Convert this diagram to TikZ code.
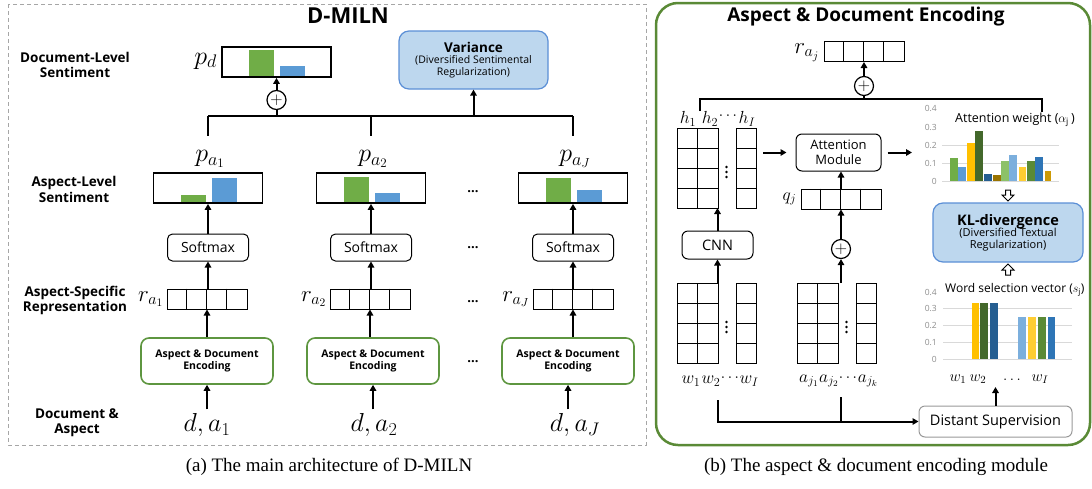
\RequirePackage{fix-cm}
\documentclass[tikz,border=0pt]{standalone}
\usepackage{fontspec}
\setmainfont{Open Sans}
\newfontfamily\capfont{Liberation Serif}
\usetikzlibrary{arrows.meta,calc}

\definecolor{bargreen}{HTML}{70AD47}
\definecolor{barblue}{HTML}{5B9BD5}
\definecolor{regfill}{HTML}{BDD7EE}
\definecolor{regdraw}{HTML}{5B8FD6}
\definecolor{encgreen}{HTML}{5E9640}
\definecolor{panelgreen}{HTML}{5A8A36}
\definecolor{panelgrey}{HTML}{A6A6A6}
\definecolor{cYellow}{HTML}{FFC000}
\definecolor{cDkGreen}{HTML}{43682B}
\definecolor{cDkBlue}{HTML}{255E91}
\definecolor{cGold}{HTML}{997300}
\definecolor{cLtGreen}{HTML}{8CC168}
\definecolor{cLtBlue}{HTML}{7CAFDD}
\definecolor{cLtYellow}{HTML}{FFCD33}
\definecolor{cMidGreen}{HTML}{5A8A36}
\definecolor{cMidBlue}{HTML}{2E75B6}
\definecolor{cOchre}{HTML}{CC9A06}
\definecolor{axisgrey}{HTML}{8C8C8C}
\definecolor{gridgrey}{HTML}{D9D9D9}

\tikzset{
  arr/.style={line width=2pt, -{Triangle[length=6pt,width=6.5pt]}},
  conn/.style={line width=2pt},
  lbl/.style={font=\bfseries\fontsize{13.5}{15.5}\selectfont, align=center},
  distbox/.style={draw, line width=1.8pt, minimum width=109pt, minimum height=30pt, inner sep=0pt},
  softbox/.style={draw, rounded corners=5pt, line width=1pt, minimum width=81pt, minimum height=27pt, inner sep=0pt, font=\fontsize{14}{16}\selectfont},
  encbox/.style={draw=encgreen, rounded corners=8pt, line width=1.6pt, minimum width=132pt, minimum height=46pt, inner sep=0pt, align=center, font=\bfseries\fontsize{10.5}{12}\selectfont},
  regbox/.style={draw=regdraw, fill=regfill, rounded corners=10pt, line width=1.2pt, inner sep=0pt, align=center},
  oplus/.style={draw, circle, line width=1.2pt, minimum size=19pt, inner sep=0pt, font=\fontsize{17}{17}\selectfont},
  bigmath/.style={font=\fontsize{26}{28}\selectfont, inner sep=0pt},
  midmath/.style={font=\fontsize{23}{25}\selectfont, inner sep=0pt},
  smallmath/.style={font=\fontsize{17.5}{19}\selectfont, inner sep=0pt},
  tinymath/.style={font=\fontsize{15.5}{17}\selectfont, inner sep=0pt},
  ellip/.style={font=\bfseries\fontsize{13}{15}\selectfont},
  cellline/.style={line width=1pt},
  roundbox/.style={draw, rounded corners=6pt, line width=1pt, inner sep=0pt, align=center},
  axislbl/.style={font=\fontsize{8.5}{10}\selectfont, text=axisgrey, anchor=east, inner sep=0pt},
  charttitle/.style={font=\fontsize{12.5}{14}\selectfont, anchor=west, inner sep=0pt},
  hollow/.style={line width=1pt, fill=white},
}

% distribution box with a green and a blue bar
\newcommand\distbar[5]{% name, centre x, centre y, green height, blue height
  \fill[bargreen] (#2-27.5,#3+15) rectangle ++(25,-#4);
  \fill[barblue] (#2+3.5,#3+15) rectangle ++(25,-#5);
  \node[distbox] (#1) at (#2,#3) {};
}
% row vector of four cells
\newcommand\vecrow[3]{% name, centre x, centre y
  \node[draw, line width=1pt, minimum width=80pt, minimum height=20pt, inner sep=0pt] (#1) at (#2,#3) {};
  \foreach \k in {1,2,3} \draw[cellline] ($(#1.north west)+(20*\k,0)$) -- ($(#1.south west)+(20*\k,0)$);
}
% matrix: two columns, a gap with vertical dots, and a last column
\newcommand\gridmat[3]{% name, left x, top y
  \coordinate (#1) at (#2+39.5,#3+40);
  \coordinate (#1 n) at (#2+39.5,#3);
  \coordinate (#1 s) at (#2+39.5,#3+80);
  \coordinate (#1 e) at (#2+79,#3+40);
  \draw[cellline] (#2,#3) rectangle (#2+41,#3+80);
  \draw[cellline] (#2+59,#3) rectangle (#2+79,#3+80);
  \draw[cellline] (#2+20.5,#3) -- (#2+20.5,#3+80);
  \foreach \k in {20,40,60} {
    \draw[cellline] (#2,#3+\k) -- (#2+41,#3+\k);
    \draw[cellline] (#2+59,#3+\k) -- (#2+79,#3+\k);
  }
  \foreach \d in {-5,0,5} \fill (#2+49.5,#3+44+\d) circle (1.4pt);
}
% one chart bar: x left, x right, bottom y, top y, colour
\newcommand\cbar[5]{\fill[#5] (#1,#3) rectangle (#2,#4);}

\begin{document}
\begin{tikzpicture}[x=1pt,y=-1pt]
\useasboundingbox (0,0) rectangle (1092,488);

% ---------------- frames ----------------
\draw[panelgrey, line width=1pt, dash pattern=on 4pt off 3pt] (8,4) rectangle (646,445);
\draw[panelgreen, line width=2.5pt, rounded corners=22pt] (656,3) rectangle (1090,445);

% ---------------- left: D-MILN ----------------
\node[font=\bfseries\fontsize{22}{24}\selectfont] (titleA) at (348,16) {D-MILN};

\node[lbl] (lDoc) at (75,65) {Document-Level\\Sentiment};
\node[lbl] (lAsp) at (74,189.5) {Aspect-Level\\Sentiment};
\node[lbl] (lRep) at (75,300.5) {Aspect-Specific\\Representation};
\node[lbl] (lIn)  at (77,422.5) {Document \&\\Aspect};

% document-level output
\distbar{pd}{276.5}{62}{27}{11}
\node[bigmath, anchor=east] (pdlab) at (217,61) {$p_d$};
\node[oplus] (opd) at (276.5,100) {$+$};
\draw[arr] (opd.north) -- (pd.south);

\node[regbox, minimum width=149pt, minimum height=58pt] (var) at (473.5,60)
  {{\bfseries\fontsize{13.5}{17}\selectfont Variance}\\[-1pt]
   {\fontsize{10.5}{13}\selectfont (Diversified Sentimental}\\
   {\fontsize{10.5}{13}\selectfont Regularization)}};

% aspect columns
\distbar{pa1}{208}{188}{8}{25}
\distbar{pa2}{371}{188}{26}{10}
\distbar{pa3}{573}{188}{25}{13}
\node[bigmath] (pa1lab) at (210,159) {$p_{a_1}$};
\node[bigmath] (pa2lab) at (373,159) {$p_{a_2}$};
\node[bigmath] (pa3lab) at (575,159) {$p_{a_J}$};

\node[softbox] (sm1) at (208,247.5) {Softmax};
\node[softbox] (sm2) at (371,247.5) {Softmax};
\node[softbox] (sm3) at (573,247.5) {Softmax};

\vecrow{ra1}{207}{299}
\vecrow{ra2}{370}{299}
\vecrow{ra3}{573}{299}
\node[midmath, anchor=east] (ra1lab) at ($(ra1.west)+(-3,0)$) {$r_{a_1}$};
\node[midmath, anchor=east] (ra2lab) at ($(ra2.west)+(-3,0)$) {$r_{a_2}$};
\node[midmath, anchor=east] (ra3lab) at ($(ra3.west)+(-3,0)$) {$r_{a_J}$};

\node[encbox] (enc1) at (207,361) {Aspect \& Document\\Encoding};
\node[encbox] (enc2) at (373,361) {Aspect \& Document\\Encoding};
\node[encbox] (enc3) at (568,361) {Aspect \& Document\\Encoding};

\node[bigmath] (in1) at (207,425) {$d, a_1$};
\node[bigmath] (in2) at (374,425) {$d, a_2$};
\node[bigmath] (in3) at (575,425) {$d, a_J$};

\node[ellip] (e1) at (473,192) {...};
\node[ellip] (e2) at (473,248) {...};
\node[ellip] (e3) at (473,302) {...};
\node[ellip] (e4) at (473,362) {...};

% vertical flow in each column
\foreach \i in {1,2,3} {
  \draw[arr] (sm\i.north) -- (pa\i.south);
  \draw[arr] (ra\i.north -| sm\i) -- (sm\i.south);
  \draw[arr] (enc\i.north -| ra\i) -- (ra\i.south);
  \draw[arr] ([yshift=4pt]in\i.north -| enc\i) -- (enc\i.south);
}

% merge of the aspect-level outputs
\coordinate (barL) at (208,116);
\coordinate (barR) at (573,116);
\draw[conn] (barL) -- (barR);
\draw[conn] (opd.south) -- (opd.south |- barL);
\foreach \i in {1,2,3} \draw[conn] (pa\i.north |- barL) -- ++(0,20);
\draw[arr] (var.south |- barL) -- (var.south);

% ---------------- right: encoding module ----------------
\node[font=\bfseries\fontsize{19}{21}\selectfont] (titleB) at (866,17) {Aspect \& Document Encoding};

\vecrow{raj}{864}{51.5}
\node[midmath, anchor=east] (rajlab) at ($(raj.west)+(-4,1)$) {$r_{a_j}$};
\node[oplus] (op1) at (864,86) {$+$};
\draw[arr] (op1.north) -- (raj.south);

\coordinate (hTop) at (700,111);
\coordinate (chartTop) at (1042,112);
\draw[conn] (hTop) -- (hTop |- 0,99) -- (chartTop |- 0,99) -- (chartTop);
\draw[conn] (op1.south) -- (op1.south |- 0,99);

% hidden states
\gridmat{hmat}{677}{128}
\node[smallmath] (h1) at (688,119) {$h_1$};
\node[smallmath] (h2) at (710,119) {$h_2$};
\node[tinymath] (hd) at (728,116) {$\cdots$};
\node[smallmath] (hI) at (747,119) {$h_I$};

\node[roundbox, minimum width=85pt, minimum height=37pt, font=\fontsize{13}{14.5}\selectfont] (attn) at (838.5,152.5) {Attention\\Module};
\draw[arr, shorten <=7pt, shorten >=9pt] (hmat e |- attn.west) -- (attn.west);
\coordinate (attOut) at (912,152.5);
\draw[arr, shorten <=6pt] (attn.east) -- (attOut);

\vecrow{qj}{841}{199}
\node[smallmath, anchor=east] (qjlab) at ($(qj.west)+(-4,0)$) {$q_j$};
\draw[arr] (qj.north) -- (qj.north |- attn.south);

\node[roundbox, minimum width=71pt, minimum height=28pt, font=\fontsize{14.5}{16}\selectfont] (cnn) at (717.5,245) {CNN};
\draw[arr] (cnn.north) -- (cnn.north |- hmat s);

\node[oplus] (op2) at (841,249) {$+$};
\draw[arr] (op2.north) -- (op2.north |- qj.south);

% word and aspect embeddings
\gridmat{wmat}{677}{283}
\gridmat{amat}{797}{283}
\draw[arr] (wmat n -| cnn) -- (cnn.south);
\draw[arr] (amat n -| op2) -- (op2.south);

\node[smallmath] (w1) at (691,381) {$w_1$};
\node[smallmath] (w2) at (711,381) {$w_2$};
\node[tinymath] (wd) at (730,378) {$\cdots$};
\node[smallmath] (wI) at (749,381) {$w_I$};
\node[smallmath] (a1) at (809,381) {$a_{j_1}$};
\node[smallmath] (a2) at (829,381) {$a_{j_2}$};
\node[tinymath] (ad) at (848,378) {$\cdots$};
\node[smallmath] (ak) at (868,381) {$a_{j_k}$};

\node[draw=gridgrey!70!black, rounded corners=6pt, line width=1pt, minimum width=153pt, minimum height=31pt, inner sep=0pt, font=\fontsize{14.5}{16}\selectfont] (ds) at (995.5,421.5) {Distant Supervision};
\coordinate (wSrc) at (718,400);
\coordinate (aSrc) at (841,397);
\draw[arr] (wSrc) |- (ds.west);
\draw[conn] (aSrc) -- (aSrc |- ds.west);
\coordinate (selIn) at (995.5,387);
\draw[arr] (ds.north) -- (selIn);

% attention weight chart
\node[charttitle] (attTitle) at (955,120) {Attention weight ($\alpha_{\mathrm{j}}$\,)};
\foreach \v/\y in {0.4/108,0.3/127,0.2/145,0.1/163,0/181}
  \node[axislbl] at (937,\y) {\v};
\foreach \y in {145,163,181} \draw[gridgrey, line width=1pt] (942,\y) -- (1059,\y);
\cbar{950}{958}{181}{158}{bargreen}
\cbar{958}{966}{181}{167}{barblue}
\cbar{967}{975}{181}{143}{cYellow}
\cbar{975}{983}{181}{131}{cDkGreen}
\cbar{984}{992}{181}{174}{cDkBlue}
\cbar{993}{1001}{181}{175}{cGold}
\cbar{1001}{1009}{181}{161}{cLtGreen}
\cbar{1009}{1017}{181}{155}{cLtBlue}
\cbar{1019}{1026}{181}{167}{cLtYellow}
\cbar{1027}{1035}{181}{161}{cMidGreen}
\cbar{1035}{1043}{181}{157}{cMidBlue}
\cbar{1045}{1051}{181}{171}{cOchre}

% block arrows between the charts and the KL box
\draw[hollow] (1008,201) -- (1014,195) -- (1010.5,195) -- (1010.5,190) -- (1005.5,190) -- (1005.5,195) -- (1002,195) -- cycle;
\node[regbox, minimum width=150pt, minimum height=59pt] (kl) at (1008,232.5)
  {{\bfseries\fontsize{14.5}{17}\selectfont KL-divergence}\\[-1pt]
   {\fontsize{11}{13}\selectfont (Diversified Textual}\\
   {\fontsize{11}{13}\selectfont Regularization)}};
\draw[hollow] (1008,264) -- (1014,270) -- (1010.5,270) -- (1010.5,275) -- (1005.5,275) -- (1005.5,270) -- (1002,270) -- cycle;

% word selection chart
\node[charttitle, font=\fontsize{12}{14}\selectfont] (selTitle) at (945,290) {Word selection vector ($s_{\mathrm{j}}$)};
\foreach \v/\y in {0.4/292,0.3/308,0.2/325,0.1/342,0/359}
  \node[axislbl] at (937,\y) {\v};
\foreach \y in {308,325,342,359} \draw[gridgrey, line width=1pt] (943,\y) -- (1072,\y);
\cbar{972}{979}{359}{303}{cYellow}
\cbar{980}{988}{359}{303}{cDkGreen}
\cbar{990}{998}{359}{303}{cDkBlue}
\cbar{1018}{1026}{359}{317}{cLtBlue}
\cbar{1028}{1036}{359}{317}{cLtYellow}
\cbar{1038}{1046}{359}{317}{cMidGreen}
\cbar{1048}{1055}{359}{317}{cMidBlue}
\node[tinymath] (sw1) at (958,379) {$w_1$};
\node[tinymath] (sw2) at (978,379) {$w_2$};
\node[tinymath] (swd) at (1012,380) {$\ldots$};
\node[tinymath] (swI) at (1040,379) {$w_I$};

% ---------------- captions ----------------
\node[font=\capfont\fontsize{19}{21}\selectfont] (capA) at (329,467) {(a) The main architecture of D-MILN};
\node[font=\capfont\fontsize{19}{21}\selectfont] (capB) at (876,467) {(b) The aspect \& document encoding module};
\end{tikzpicture}
\end{document}
